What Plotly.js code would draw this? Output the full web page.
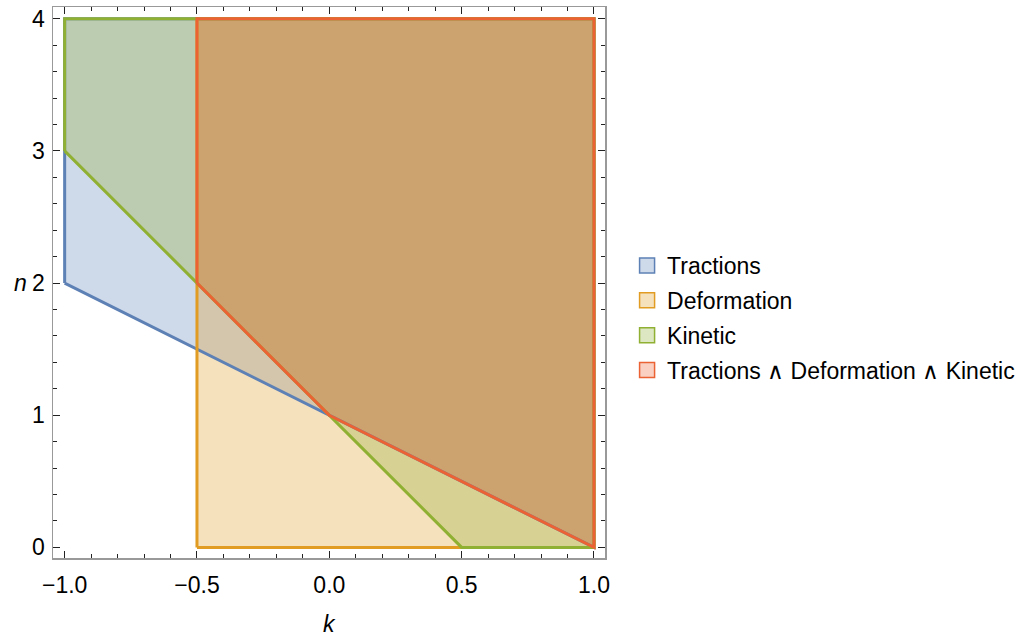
<!DOCTYPE html>
<html>
<head>
<meta charset="utf-8">
<script src="https://cdn.plot.ly/plotly-3.0.1.min.js"></script>
<style>html,body{margin:0;padding:0;background:#fff;}#chart{width:1034px;height:639px;}</style>
</head>
<body>
<div id="chart"></div>
<script>
// Region boundaries (vertices in k, n)
const regionNames = ["Tractions", "Deformation", "Kinetic", "Tractions \u2227 Deformation \u2227 Kinetic"];
const tractionsK = [-1, 1, 1, -1, -1];
const tractionsN = [2, 0, 4, 4, 2];
const deformationK = [-0.5, 1, 1, -0.5, -0.5];
const deformationN = [0, 0, 4, 4, 0];
const kineticK = [-1, 0.5, 1, 1, -1, -1];
const kineticN = [3, 0, 0, 4, 4, 3];
const allK = [-0.5, 0, 1, 1, -0.5, -0.5];
const allN = [2, 1, 0, 4, 4, 2];
const xTickVals = [-1, -0.5, 0, 0.5, 1];
const yTickVals = [0, 1, 2, 3, 4];

const colors = ["#5E81B5", "#E19C24", "#8FB032", "#EB6235"];
const fills = ["rgba(94,129,181,0.3)", "rgba(225,156,36,0.3)", "rgba(143,176,50,0.3)", "rgba(235,98,53,0.3)"];
const ks = [tractionsK, deformationK, kineticK, allK];
const ns = [tractionsN, deformationN, kineticN, allN];

const traces = [];
// fills first
for (let i = 0; i < 4; i++) {
  traces.push({
    type: "scatter", mode: "lines", x: ks[i], y: ns[i],
    fill: "toself", fillcolor: fills[i],
    line: {color: "rgba(0,0,0,0)", width: 0},
    showlegend: false, hoverinfo: "skip"
  });
}
// boundary lines on top
for (let i = 0; i < 4; i++) {
  traces.push({
    type: "scatter", mode: "lines", x: ks[i], y: ns[i],
    line: {color: colors[i], width: 3},
    showlegend: false, hoverinfo: "skip"
  });
}
// legend entries
for (let i = 0; i < 4; i++) {
  traces.push({
    type: "scatter", mode: "markers", x: [null], y: [null],
    name: regionNames[i], legendgroup: "g" + i,
    marker: {symbol: "square", size: 15, color: fills[i], line: {color: colors[i], width: 1.5}},
    showlegend: true
  });
}

const fam = "Liberation Sans, Arial, sans-serif";
const tickFont = {family: fam, size: 23, color: "#000"};
const layout = {
  width: 1034, height: 639,
  margin: {l: 53, r: 429, t: 7, b: 81},
  paper_bgcolor: "#fff", plot_bgcolor: "#fff",
  showlegend: true,
  legend: {x: 1.04, xanchor: "left", y: 0.57, yanchor: "top", font: {family: fam, size: 23, color: "#000"}, tracegroupgap: 2, bgcolor: "rgba(0,0,0,0)"},
  xaxis: {
    range: [-1.044, 1.0416], tickvals: xTickVals, tickformat: ".1f",
    ticks: "inside", ticklen: 7, tickcolor: "#222", tickwidth: 1,
    minor: {dtick: 0.1, ticks: "inside", ticklen: 4, tickcolor: "#222", showgrid: false},
    showline: true, mirror: "ticks", linecolor: "#999", linewidth: 1.5,
    showgrid: false, zeroline: false, tickfont: tickFont, ticklabelstandoff: 6
  },
  yaxis: {
    range: [-0.08, 4.0885], tickvals: yTickVals, tickformat: "d",
    ticks: "inside", ticklen: 7, tickcolor: "#222", tickwidth: 1,
    minor: {dtick: 0.2, ticks: "inside", ticklen: 4, tickcolor: "#222", showgrid: false},
    showline: true, mirror: "ticks", linecolor: "#999", linewidth: 1.5,
    showgrid: false, zeroline: false, tickfont: tickFont, ticklabelstandoff: 2
  },
  annotations: [
    {text: "<i>k</i>", xref: "paper", yref: "paper", x: 0.5, y: -0.12, xanchor: "center", yanchor: "middle", showarrow: false, font: {family: fam, size: 23, color: "#000"}},
    {text: "<i>n</i>", xref: "paper", yref: "y", x: -0.058, y: 2, xanchor: "center", yanchor: "middle", showarrow: false, font: {family: fam, size: 23, color: "#000"}}
  ]
};

Plotly.newPlot("chart", traces, layout, {displayModeBar: false, staticPlot: true});
</script>
</body>
</html>
